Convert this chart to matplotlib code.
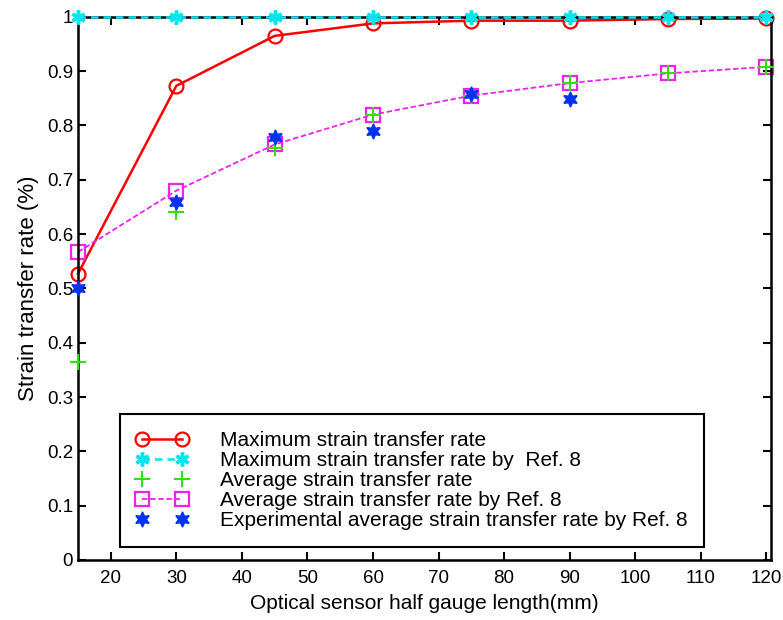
import matplotlib
matplotlib.use('Agg')
import matplotlib.pyplot as plt
from matplotlib.ticker import FuncFormatter

plt.rcParams['font.family'] = ['Liberation Sans', 'DejaVu Sans']

x = [15, 30, 45, 60, 75, 90, 105, 120]
max_rate = [0.527, 0.873, 0.965, 0.988, 0.993, 0.993, 0.996, 0.997]
max_rate_ref8 = [1.0, 1.0, 1.0, 1.0, 1.0, 1.0, 1.0, 1.0]
avg_rate = [0.365, 0.641, 0.758, 0.82, 0.855, 0.878, 0.896, 0.908]
avg_rate_ref8 = [0.567, 0.68, 0.765, 0.82, 0.855, 0.878, 0.896, 0.908]
x_exp = [15, 30, 45, 60, 75, 90]
exp_rate = [0.5, 0.66, 0.778, 0.79, 0.858, 0.849]

labels = ['Maximum strain transfer rate',
          'Maximum strain transfer rate by  Ref. 8',
          'Average strain transfer rate',
          'Average strain transfer rate by Ref. 8',
          'Experimental average strain transfer rate by Ref. 8']

fig = plt.figure(figsize=(7.83, 6.2), dpi=100)
ax = fig.add_axes([0.0996, 0.0968, 0.885, 0.876])

ax.plot(x, max_rate, color='red', lw=1.8, marker='o', ms=10, mfc='none',
        mew=1.6, label=labels[0], clip_on=False)
ax.plot(x, max_rate_ref8, color='#00e5ee', lw=1.8, ls=(0, (3, 2)),
        marker=(6, 2, 0), ms=10, mew=2.5, label=labels[1], zorder=3,
        clip_on=False)
ax.plot(x, avg_rate, color='#33dd11', ls='none', marker='+', ms=11,
        mew=1.5, label=labels[2], zorder=4, clip_on=False)
ax.plot(x, avg_rate_ref8, color='#ee22ee', lw=1.3, ls=(0, (3, 1.5)),
        marker='s', ms=10, mfc='none', mew=1.6, label=labels[3],
        clip_on=False)
ax.plot(x_exp, exp_rate, color='#0033ee', ls='none', marker=(6, 1, 0),
        ms=11, label=labels[4], zorder=5, clip_on=False)

ax.set_xlim(15, 120.7)
ax.set_ylim(0, 1)
ax.set_xticks(range(20, 121, 10))
ax.set_yticks([i / 10 for i in range(11)])
ax.yaxis.set_major_formatter(FuncFormatter(lambda v, p: '%g' % round(v, 1)))
ax.tick_params(direction='in', top=True, right=True, labelsize=13.5,
               length=6, width=1.5)
ax.tick_params(axis='x', pad=7)
for s in ax.spines.values():
    s.set_linewidth(1.8)

ax.set_xlabel('Optical sensor half gauge length(mm)', fontsize=15,
              labelpad=5)
ax.set_ylabel('Strain transfer rate (%)', fontsize=16, labelpad=6)

leg = ax.legend(loc='lower left', bbox_to_anchor=(0.06, 0.024), numpoints=2,
                fontsize=15, fancybox=False, edgecolor='black',
                framealpha=1, handlelength=2.5, labelspacing=0.05,
                borderpad=0.8, handletextpad=1.5, borderaxespad=0)
leg.get_frame().set_linewidth(1.5)

fig.savefig('out.png', dpi=100)
